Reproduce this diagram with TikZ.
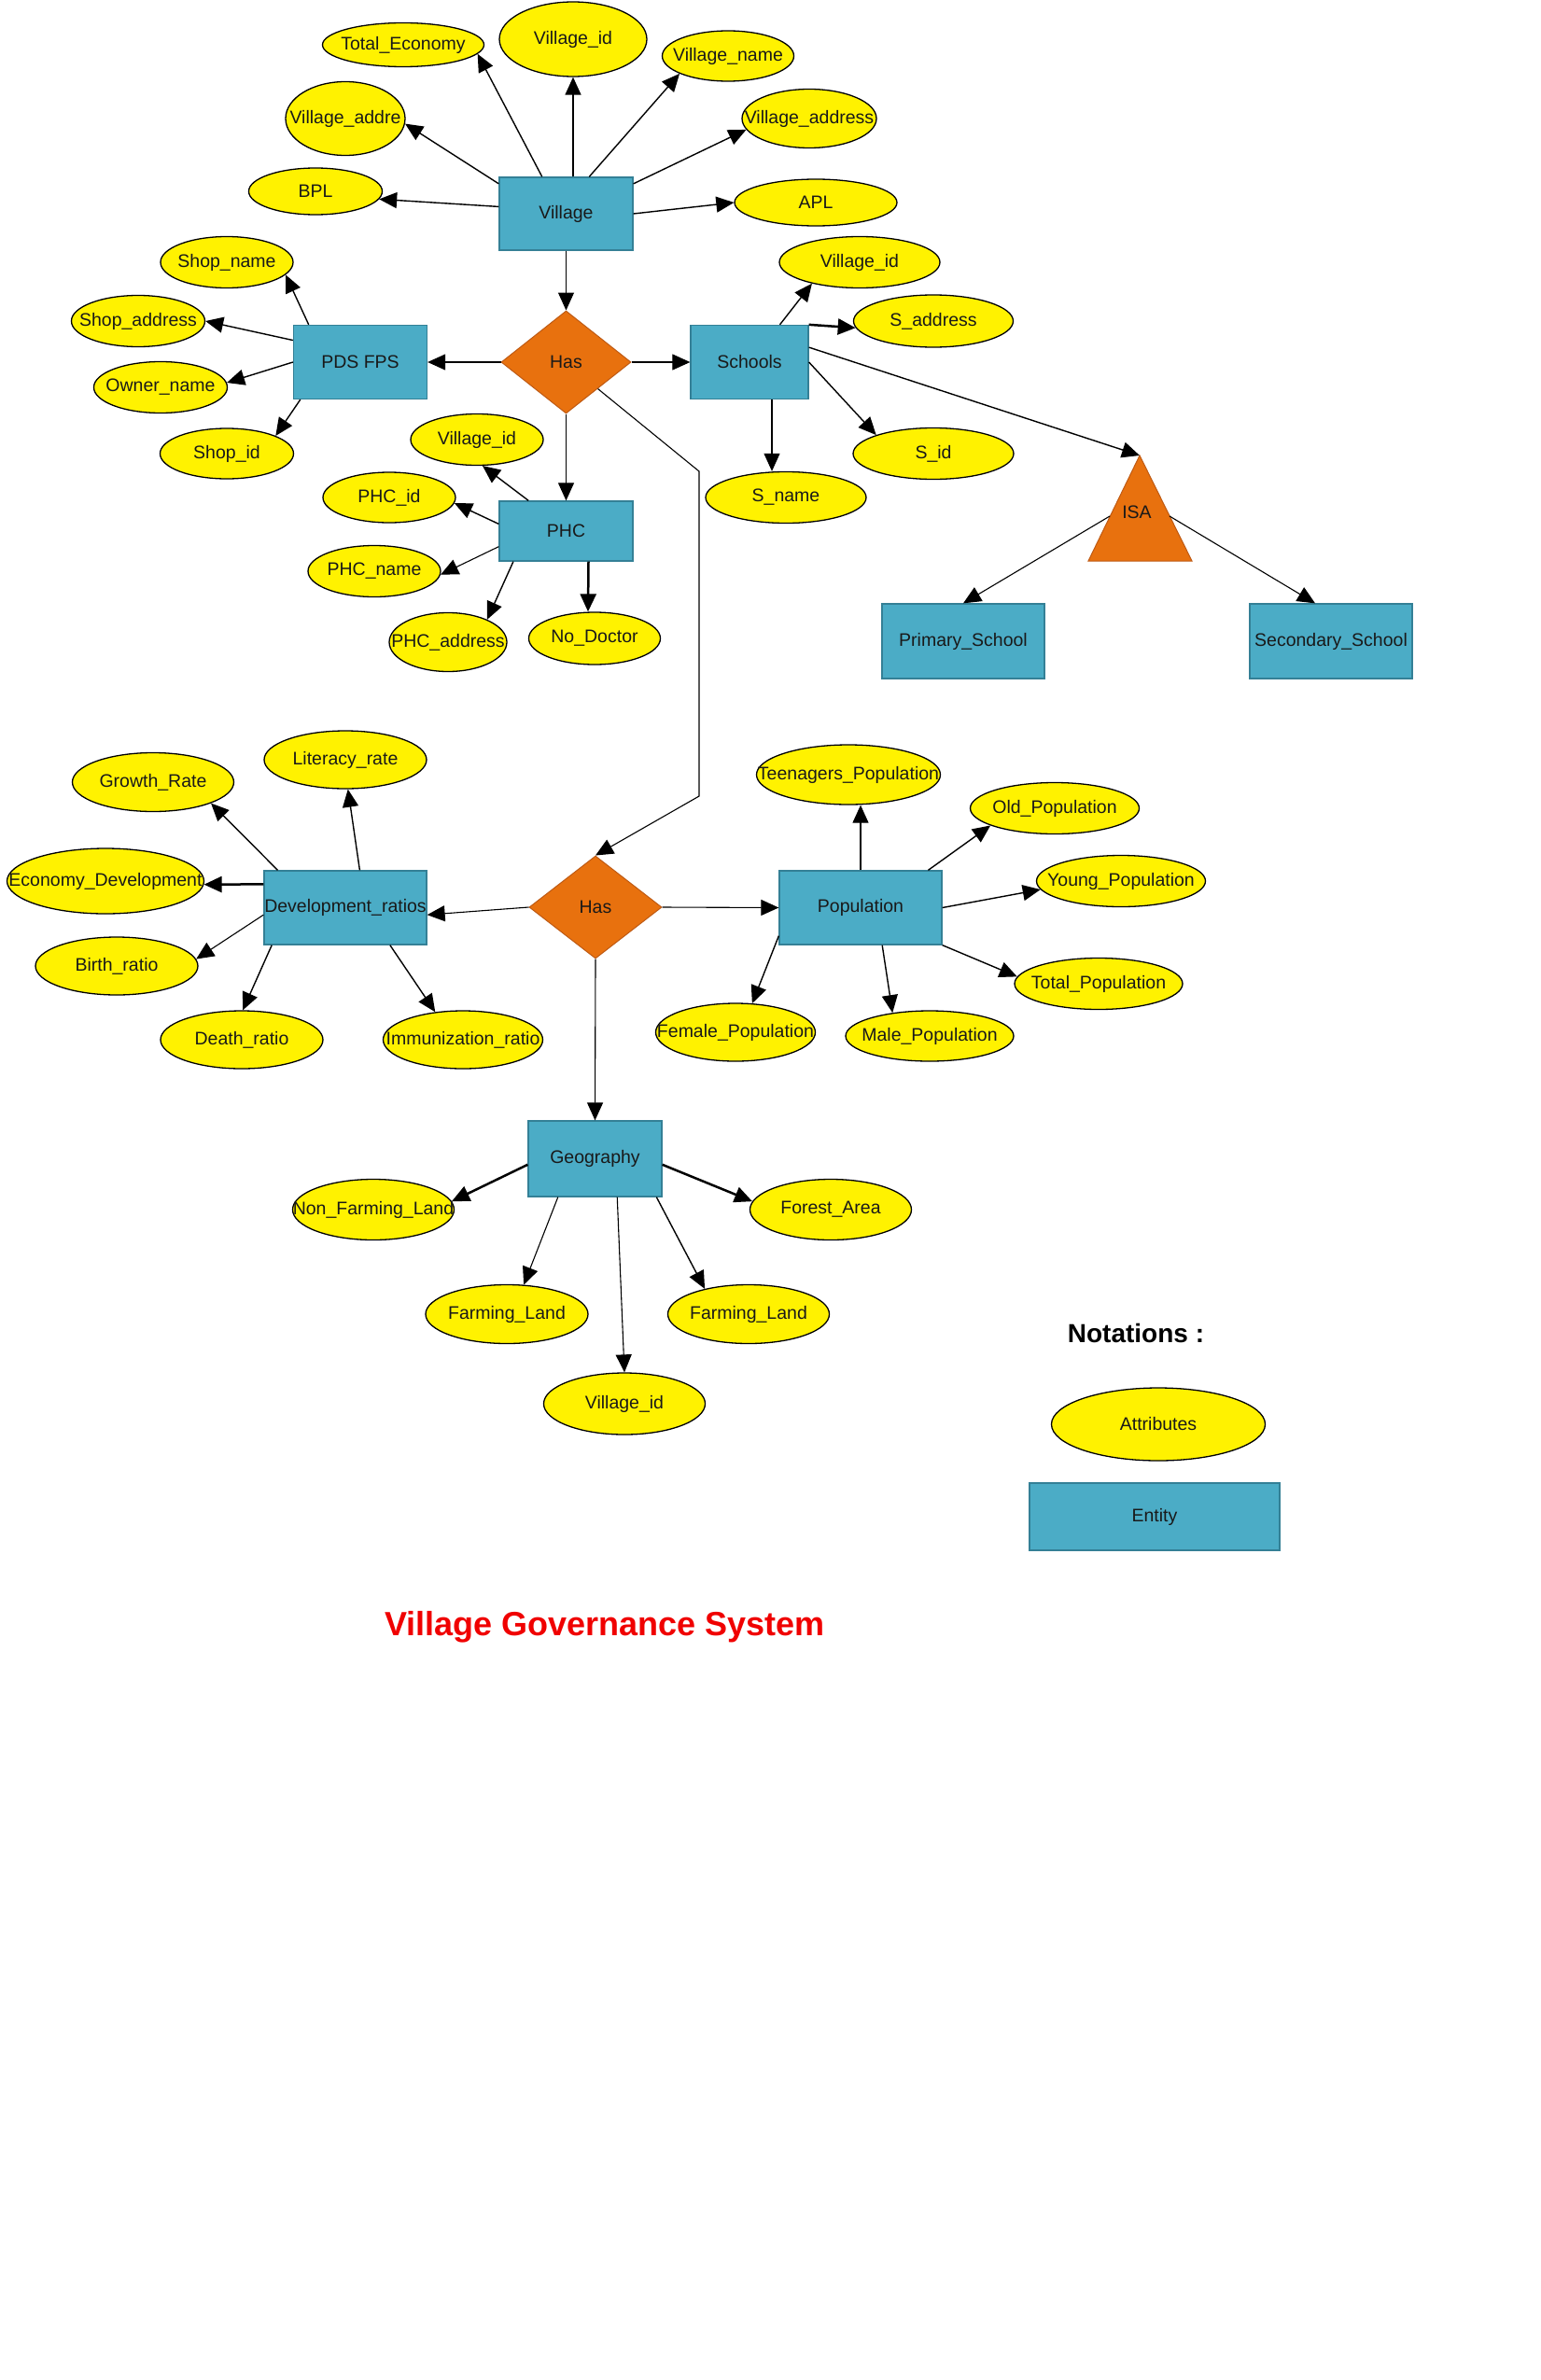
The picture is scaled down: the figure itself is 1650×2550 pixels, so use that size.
\documentclass[tikz,border=0pt]{standalone}
\usepackage{fontspec}
\setmainfont{Liberation Sans}
\usetikzlibrary{arrows.meta,shapes.geometric}
\definecolor{entfill}{RGB}{75,172,198}
\definecolor{entdraw}{RGB}{52,128,150}
\definecolor{relfill}{RGB}{232,113,14}
\definecolor{reldraw}{RGB}{190,90,20}
\definecolor{txt}{RGB}{25,25,25}
\definecolor{ttl}{RGB}{240,0,0}
\newcommand\cbx[1]{\makebox[0pt]{#1}}
\begin{document}
\begin{tikzpicture}[x=1pt,y=-1pt,
  every node/.style={font=\fontsize{19.5}{22}\selectfont, text=txt, inner sep=0pt},
  sz/.style 2 args={minimum width=#1pt, minimum height=#2pt},
  attr/.style={ellipse, draw=black, line width=1.3pt, fill=yellow},
  ent/.style={rectangle, draw=entdraw, line width=1.3pt, fill=entfill},
  rel/.style={diamond, draw=reldraw, line width=1pt, fill=relfill},
  arr/.style={-{Triangle[length=19pt,width=17pt]}, line width=1.4pt, black},
  thinarr/.style={arr, line width=1.1pt},
  thickarr/.style={arr, line width=2.5pt},
]
\useasboundingbox (0,0) rectangle (1650,2550);
\fill[white] (0,0) rectangle (1650,2550);

% ---- Village cluster
\node[attr, sz={173}{47}] (te) at (432,48) {\cbx{Total\_Economy}};
\node[attr, sz={158}{80}] (vid) at (614,42) {\cbx{Village\_id}};
\node[attr, sz={141}{54}] (vn) at (780,60) {\cbx{Village\_name}};
\node[attr, sz={128}{79}] (va) at (370,127) {\cbx{Village\_addre}};
\node[attr, sz={144}{63}] (vad) at (867,127) {\cbx{Village\_address}};
\node[attr, sz={143}{50}] (bpl) at (338,205) {\cbx{BPL}};
\node[attr, sz={174}{50}] (apl) at (874,217) {\cbx{APL}};
\node[ent, sz={143}{78}] (v) at (606.5,229) {Village};

% ---- PDS FPS
\node[attr, sz={142}{55}] (shn) at (243,281) {\cbx{Shop\_name}};
\node[attr, sz={143}{55}] (sha) at (148,344) {\cbx{Shop\_address}};
\node[attr, sz={143}{55}] (on) at (172,415) {\cbx{Owner\_name}};
\node[attr, sz={143}{54}] (shi) at (243,486) {\cbx{Shop\_id}};
\node[ent, sz={143}{79}] (p) at (386,388) {PDS FPS};
\node[rel, sz={139}{110}] (h1) at (606.5,388) {Has};

% ---- Schools
\node[ent, sz={126}{79}] (s) at (803,388) {Schools};
\node[attr, sz={172}{55}] (vis) at (921,281) {\cbx{Village\_id}};
\node[attr, sz={171}{56}] (sad) at (1000,344) {\cbx{S\_address}};
\node[attr, sz={172}{55}] (sid) at (1000,486) {\cbx{S\_id}};
\node[attr, sz={172}{55}] (sn) at (842,533) {\cbx{S\_name}};
\draw[fill=relfill, draw=reldraw, line width=1pt] (1221,488) coordinate (isaT) -- (1277,601) coordinate (isaR) -- (1166,601) coordinate (isaL) -- cycle;
\node (isa) at (1218,549) {ISA};
\coordinate (isaLm) at (1189,553);
\coordinate (isaRm) at (1253,553);
\node[ent, sz={174}{80}] (pr) at (1032,687) {Primary\_School};
\node[ent, sz={174}{80}] (ss) at (1426,687) {Secondary\_School};

% ---- PHC
\node[attr, sz={142}{55}] (vip) at (511,471) {\cbx{Village\_id}};
\node[attr, sz={142}{54}] (pid) at (417,533) {\cbx{PHC\_id}};
\node[attr, sz={142}{55}] (pn) at (401,612) {\cbx{PHC\_name}};
\node[attr, sz={126}{63}] (pa) at (480,688) {\cbx{PHC\_address}};
\node[attr, sz={141}{56}] (nd) at (637,684) {\cbx{No\_Doctor}};
\node[ent, sz={143}{64}] (ph) at (606.5,569) {PHC};

% ---- Development ratios
\node[attr, sz={173}{63}] (gr) at (164,838) {\cbx{Growth\_Rate}};
\node[attr, sz={174}{62}] (lr) at (370,814) {\cbx{Literacy\_rate}};
\node[attr, sz={211}{70}] (ed) at (113,944) {\cbx{Economy\_Development}};
\node[ent, sz={174}{79}] (d) at (370,972.5) {\cbx{Development\_ratios}};
\node[attr, sz={174}{62}] (br) at (125,1035) {\cbx{Birth\_ratio}};
\node[attr, sz={174}{62}] (dr) at (259,1114) {\cbx{Death\_ratio}};
\node[attr, sz={171}{62}] (ir) at (496,1114) {\cbx{Immunization\_ratio}};
\node[rel, sz={142}{110}] (h2) at (638,972) {Has};

% ---- Population
\node[attr, sz={197}{64}] (tp) at (909,830) {\cbx{Teenagers\_Population}};
\node[attr, sz={181}{55}] (op) at (1130,866) {\cbx{Old\_Population}};
\node[attr, sz={181}{55}] (yp) at (1201,944) {\cbx{Young\_Population}};
\node[ent, sz={174}{79}] (pop) at (922,972.5) {Population};
\node[attr, sz={180}{55}] (tot) at (1177,1054) {\cbx{Total\_Population}};
\node[attr, sz={171}{62}] (fp) at (788,1106) {\cbx{Female\_Population}};
\node[attr, sz={180}{54}] (mp) at (996,1110) {\cbx{Male\_Population}};

% ---- Geography
\node[ent, sz={143}{81}] (g) at (637.5,1241.5) {Geography};
\node[attr, sz={173}{65}] (nf) at (400,1296) {\cbx{Non\_Farming\_Land}};
\node[attr, sz={173}{65}] (fa) at (890,1296) {\cbx{Forest\_Area}};
\node[attr, sz={174}{63}] (fl) at (543,1408) {\cbx{Farming\_Land}};
\node[attr, sz={173}{63}] (fr) at (802,1408) {\cbx{Farming\_Land}};
\node[attr, sz={173}{66}] (vig) at (669,1504) {\cbx{Village\_id}};

% ---- Legend and title
\node[font=\fontsize{28}{32}\selectfont\bfseries, text=black] (nt) at (1217,1428) {Notations :};
\node[attr, sz={229}{78}] (la) at (1241,1526) {\cbx{Attributes}};
\node[ent, sz={268}{72}] (le) at (1237,1625) {Entity};
\node[font=\fontsize{36}{40}\selectfont\bfseries, text=ttl] (title) at (648,1743) {Village Governance System};

\coordinate (b1) at (749,505);
\coordinate (b2) at (749,853);

% ---- connectors: Village
\draw[arr] (v.123) -- (te.-7);
\draw[arr] (v.north -| vid.south) -- (vid.south);
\draw[arr] (v.58) -- (vn.-160);
\draw[arr] (v.156) -- (va.-5);
\draw[arr] (v.24) -- (vad.190);
\draw[arr] (v.174) -- (bpl.-7);
\draw[arr] (v.east) -- (apl.west);
\draw[thinarr] (v.south) -- (h1.north);
\draw[thinarr] (h1.west) -- (p.east);
\draw[thinarr] (h1.east) -- (s.west);
\draw[thinarr] (h1.south) -- (ph.north);
% PDS FPS
\draw[arr] (p.144) -- (shn.-12);
\draw[arr] (p.162) -- (sha.east);
\draw[arr] (p.west) -- (on.4);
\draw[arr] (p.212) -- (shi.20);
% Schools
\draw[arr] (s.51) -- (vis.204);
\draw[thickarr] (s.north east) -- (sad.185);
\draw[arr] (s.east) -- (sid.162);
\draw[thinarr] ([xshift=24pt]s.south) -- ([xshift=-15pt]sn.north);
\draw[arr] (s.14) -- (isaT);
\draw[thinarr] (isaLm) -- (pr.north);
\draw[thinarr] (isaRm) -- ([xshift=-17pt]ss.north);
% PHC
\draw[arr] (ph.141) -- (vip.-78);
\draw[arr] (ph.174) -- (pid.-5);
\draw[thinarr] (ph.193) -- (pn.-3);
\draw[arr] (ph.210) -- (pa.30);
\draw[thickarr] ([xshift=24pt]ph.south) -- ([xshift=-7pt]nd.north);
% Has -> Has
\draw[thinarr] (h1.-40) -- (b1) -- (b2) -- (h2.north);
% Development
\draw[arr] (d.151) -- (gr.-20);
\draw[arr] (d.69) -- (lr.-85);
\draw[thickarr] (d.164) -- (ed.-2);
\draw[thinarr] (d.185) -- (br.5);
\draw[arr] (d.207) -- (dr.88);
\draw[arr] (d.-40) -- (ir.135);
\draw[thinarr] (h2.west) -- (d.-5);
\draw[thinarr] (h2.east) -- (pop.west);
\draw[thinarr] (h2.south) -- (g.north);
% Population
\draw[thinarr] (pop.north) -- (pop.north |- tp.south);
\draw[arr] (pop.29) -- (op.195);
\draw[arr] (pop.east) -- (yp.186);
\draw[arr] (pop.south east) -- (tot.175);
\draw[arr] (pop.-60) -- (mp.148);
\draw[arr] (pop.199) -- (fp.60);
% Geography
\draw[thickarr] (g.185) -- (nf.6);
\draw[thickarr] (g.-5) -- (fa.174);
\draw[thinarr] (g.226) -- (fl.60);
\draw[thinarr] (g.-60) -- (vig.north);
\draw[arr] (g.-32) -- (fr.150);
\end{tikzpicture}
\end{document}
